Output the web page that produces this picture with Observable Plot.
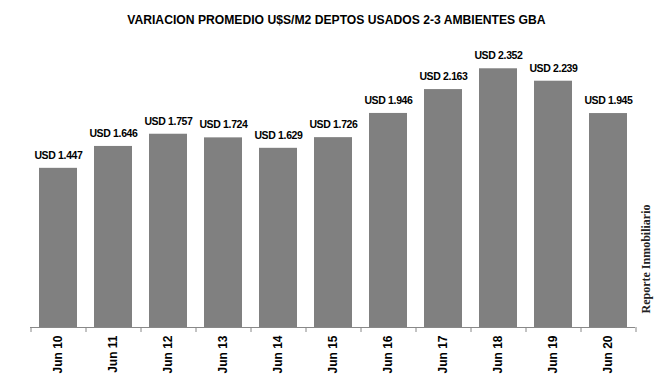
<!DOCTYPE html>
<html>
<head>
<meta charset="utf-8">
<script src="https://cdn.jsdelivr.net/npm/d3@7"></script>
<script src="https://cdn.jsdelivr.net/npm/@observablehq/plot@0.6"></script>
<style>
  html, body { margin: 0; padding: 0; background: #fff; }
  #wrap { position: relative; width: 672px; height: 385px; overflow: hidden; }
  #title { height: 36px; line-height: 36px; text-align: center; font-family: "Liberation Sans", Arial, sans-serif; font-weight: bold; font-size: 13.5px; color: #000; position: relative; }
  #title span { display: inline-block; transform: translateY(2px) scaleX(0.9); white-space: nowrap; }
  #mark { position: absolute; left: 646px; top: 259px; transform: translate(-50%, -50%) rotate(-90deg); white-space: nowrap; font-family: "Liberation Serif", "DejaVu Serif", serif; font-weight: bold; font-size: 12px; color: #222; }
</style>
</head>
<body>
<div id="wrap">
  <div id="title"><span>VARIACION PROMEDIO U$S/M2 DEPTOS USADOS 2-3 AMBIENTES GBA</span></div>
  <div id="chart"></div>
  <div id="mark">Reporte Inmobiliario</div>
</div>
<script>
const categories = ["Jun 10", "Jun 11", "Jun 12", "Jun 13", "Jun 14", "Jun 15", "Jun 16", "Jun 17", "Jun 18", "Jun 19", "Jun 20"];
const values = [1447, 1646, 1757, 1724, 1629, 1726, 1946, 2163, 2352, 2239, 1945];
const valueLabels = ["USD 1.447", "USD 1.646", "USD 1.757", "USD 1.724", "USD 1.629", "USD 1.726", "USD 1.946", "USD 2.163", "USD 2.352", "USD 2.239", "USD 1.945"];

const data = categories.map((c, i) => ({cat: c, value: values[i], label: valueLabels[i]}));
const step = 55;

const chart = Plot.plot({
  width: 672,
  height: 349,
  marginLeft: 30,
  marginRight: 37,
  marginTop: 16,
  marginBottom: 58,
  style: {background: "#fff"},
  x: {domain: categories, paddingInner: 0.31, paddingOuter: 0.155, label: null},
  y: {domain: [0, 2500], axis: null},
  marks: [
    Plot.barY(data, {x: "cat", y: "value", fill: "#808080"}),
    Plot.text(data, {x: "cat", y: "value", text: "label", dy: -13, fontWeight: "bold", fontSize: 10.5, fontFamily: "'Liberation Sans', Arial, sans-serif", fill: "#000"}),
    Plot.ruleY([0], {stroke: "#888"}),
    Plot.ruleX(categories, {x: d => d, dx: -step / 2, y1: 0, y2: 0, insetBottom: -5, stroke: "#888"}),
    Plot.ruleX([categories[categories.length - 1]], {x: d => d, dx: step / 2, y1: 0, y2: 0, insetBottom: -5, stroke: "#888"}),
    Plot.axisX({tickSize: 0, tickPadding: 8, tickRotate: -90, fontSize: 12, fontWeight: "bold", fontFamily: "'Liberation Sans', Arial, sans-serif", fill: "#000", label: null})
  ]
});
d3.select(chart).selectAll("g[aria-label='text'] text").attr("letter-spacing", "-0.35");
document.getElementById("chart").appendChild(chart);
</script>
</body>
</html>
